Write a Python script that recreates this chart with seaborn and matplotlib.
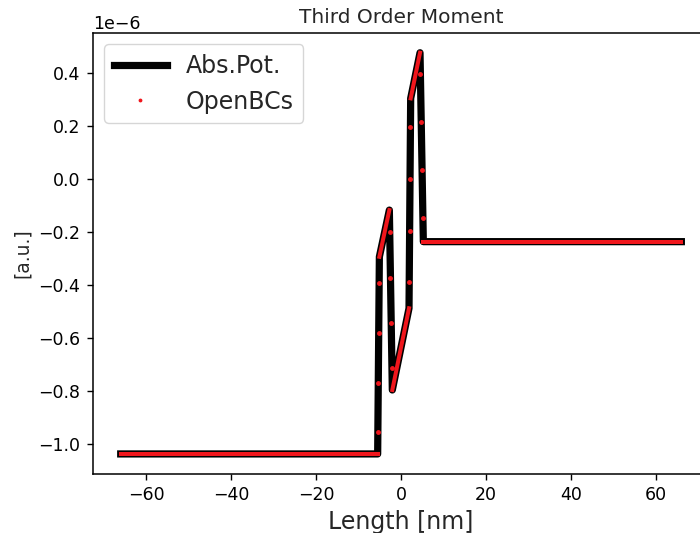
import numpy as np
import pandas as pd
import seaborn as sns
import matplotlib.pyplot as plt

# corner points of the Abs.Pot. curve (length in nm, moment in 1e-6 a.u.)
length_nm = [-66.0, -5.5, -5.1, -2.75, -2.05, 1.88, 2.27, 4.47, 5.25, 66.0]
moment = [-1.036, -1.036, -0.293, -0.117, -0.795, -0.487, 0.304, 0.476, -0.236, -0.236]

# OpenBCs: dense samples on the gentle parts look like a solid red band
openbc_seg = [0, 0, 1, 1, 2, 2, 3, 3, 4, 4]
openbc_seg_x = [-66.0, -5.5, -5.1, -2.75, -2.05, 1.88, 2.27, 4.47, 5.25, 66.0]
openbc_seg_y = [-1.036, -1.036, -0.293, -0.117, -0.795, -0.487, 0.304, 0.476, -0.236, -0.236]

# OpenBCs samples visible on the steep jumps
openbc_x = [-5.15, -5.25, -5.35, -5.45,
            -2.66, -2.49, -2.31, -2.13,
            1.93, 2.02, 2.12, 2.22,
            4.56, 4.76, 4.95, 5.15]
openbc_y = [-0.390, -0.581, -0.767, -0.952,
            -0.201, -0.372, -0.544, -0.714,
            -0.387, -0.195, 0.000, 0.197,
            0.394, 0.214, 0.034, -0.146]

scale = 1e-6
abs_df = pd.DataFrame({"x": length_nm, "y": np.array(moment) * scale})
seg_df = pd.DataFrame({"x": openbc_seg_x, "y": np.array(openbc_seg_y) * scale, "seg": openbc_seg})
dot_df = pd.DataFrame({"x": openbc_x, "y": np.array(openbc_y) * scale})

sns.set_style("ticks")
plt.rcParams["font.family"] = ["DejaVu Sans"]

fig = plt.figure(figsize=(7, 5.33), dpi=100)
ax = fig.add_axes([0.1324, 0.1107, 0.881, 0.828])

sns.lineplot(data=abs_df, x="x", y="y", sort=False, estimator=None,
             color="black", linewidth=5.2, label="Abs.Pot.", ax=ax,
             solid_capstyle="projecting", solid_joinstyle="round")
sns.lineplot(data=seg_df, x="x", y="y", units="seg", sort=False, estimator=None,
             color="#f0161c", linewidth=2.9, legend=False, ax=ax,
             solid_capstyle="projecting")
ax.plot(dot_df["x"], dot_df["y"], ".", color="#f0161c", markersize=5,
        label="OpenBCs")

for sp in ax.spines.values():
    sp.set_color("black")
    sp.set_linewidth(1.1)
ax.tick_params(labelsize=12.5, length=4.4, width=1.0, pad=4.4, colors="black")
ax.yaxis.get_offset_text().set_fontsize(12.5)

ax.set_title("Third Order Moment", fontsize=14.5, pad=7)
ax.set_xlabel("Length [nm]", fontsize=17)
ax.set_ylabel("[a.u.]", fontsize=13.5, labelpad=5)
ax.set_xticks([-60, -40, -20, 0, 20, 40, 60])

ax.legend(loc="upper left", fontsize=17, handlelength=2.25, framealpha=0.8,
          markerscale=0.7)

fig.savefig("out.png", dpi=100)
